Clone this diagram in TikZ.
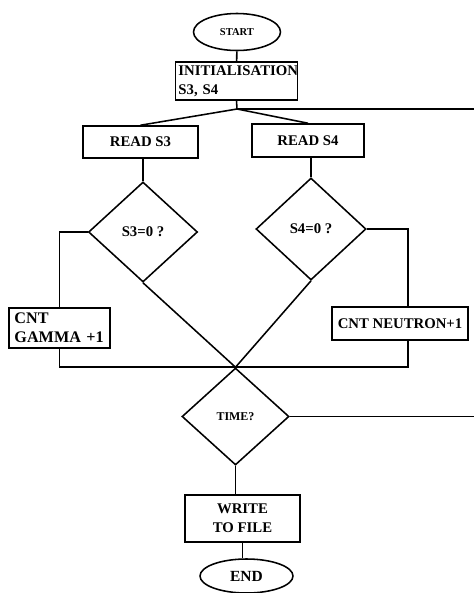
\documentclass[tikz,border=0pt]{standalone}
\usepackage{fontspec}
\setmainfont{Liberation Serif}
\usetikzlibrary{shapes.geometric}

\begin{document}
\begin{tikzpicture}[x=0.025cm, y=-0.025cm, font=\fontsize{10.5}{13.5}\selectfont\bfseries,
    blk/.style={draw, line width=1.1pt, inner sep=2pt},
    dec/.style={draw, diamond, line width=1.1pt, inner sep=0pt},
    term/.style={draw, ellipse, line width=1.1pt, inner sep=0pt},
    link/.style={draw, line width=1.1pt}
]
    \useasboundingbox (0,0) rectangle (474,593);
    % top part
    \node[term, minimum width=2.175cm, minimum height=0.925cm, font=\fontsize{7.5}{9}\selectfont\bfseries] (start) at (237,32) {START};
    \node[blk, text width=2.9cm, align=left, inner xsep=0.08cm, inner ysep=1pt, minimum height=0.95cm] (init) at (236.5,81) {INITIALISATION\\S3, S4};
    \node[blk, minimum width=2.875cm, minimum height=0.8cm] (read3) at (140.5,142) {READ S3};
    \node[blk, minimum width=2.8cm, minimum height=0.825cm] (read4) at (308,140.5) {READ S4};
    \coordinate (jn) at (237,109);
    \coordinate (loopA) at (474,109);
    % tests
    \node[dec, minimum width=2.725cm, minimum height=2.5cm] (s3) at (143,232) {S3=0 ?};
    \node[dec, minimum width=2.75cm, minimum height=2.55cm] (s4) at (311,229) {S4=0 ?};
    \node[blk, text width=2.25cm, align=left, inner xsep=0.14cm, inner ysep=1pt, minimum height=1cm, font=\fontsize{11.5}{13.5}\selectfont\bfseries] (gamma) at (59.5,328) {CNT\\GAMMA +1};
    \node[blk, inner xsep=0pt, minimum width=3.4cm, minimum height=0.825cm] (neutron) at (400,323.5) {CNT NEUTRON+1};
    % bottom part
    \node[dec, minimum width=2.675cm, minimum height=2.425cm, font=\fontsize{8.5}{10}\selectfont\bfseries] (time) at (235.5,416.5) {TIME?};
    \coordinate (loopB) at (time.east -| loopA);
    \node[blk, align=center, minimum width=2.875cm, minimum height=1.175cm] (write) at (242.5,518.5) {WRITE\\TO FILE};
    \node[term, minimum width=2.325cm, minimum height=0.85cm, font=\fontsize{11}{13}\selectfont\bfseries] (end) at (246.5,576) {END};

    \draw[link] (start) -- (init);
    \draw[link] (init.south) -- (jn);
    \draw[link] (jn) -- (read3.north);
    \draw[link] (jn) -- (read4.north);
    \draw[link] (jn) -- (loopA);
    \draw[link] (s3.north |- read3.south) -- (s3.north);
    \draw[link] (s4.north |- read4.south) -- (s4.north);
    \draw[link] (s3.west) -| (gamma.north);
    \draw[link] (s4.east) -| (neutron.65);
    \draw[link] (gamma.south) |- (time.north) -| (neutron.-65);
    \draw[link] (s3.south) -- (time.north);
    \draw[link] (s4.south) -- (time.north);
    \draw[link] (time.east) -- (loopB);
    \draw[link] (time.south) -- (time.south |- write.north);
    \draw[link] (write.south) -- (write.south |- end.north);
\end{tikzpicture}
\end{document}
